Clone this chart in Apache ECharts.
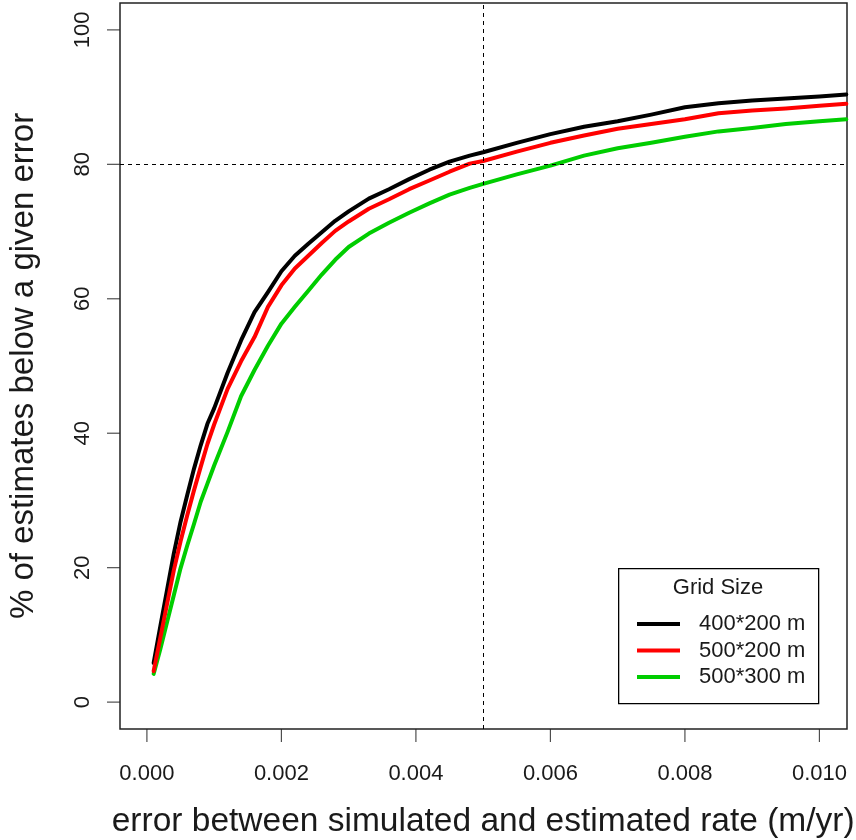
<!DOCTYPE html>
<html>
<head>
<meta charset="utf-8">
<title>Cumulative error by grid size</title>
<script src="https://cdn.jsdelivr.net/npm/echarts@6/dist/echarts.min.js"></script>
<style>
  html, body { margin: 0; padding: 0; background: #ffffff; }
  #chart { width: 856px; height: 840px; }
</style>
</head>
<body>
<div id="chart"></div>
<script>
// Error thresholds (m/yr) at which the cumulative share is sampled
const errorLevels = [0.0001, 0.0002, 0.0003, 0.0004, 0.0005, 0.0006, 0.0007, 0.0008, 0.0009, 0.0010,
  0.0012, 0.0014, 0.0016, 0.0018, 0.0020, 0.0022, 0.0024, 0.0026, 0.0028, 0.0030,
  0.0033, 0.0036, 0.0039, 0.0042, 0.0045, 0.0048, 0.0050, 0.0055, 0.0060, 0.0065,
  0.0070, 0.0075, 0.0080, 0.0085, 0.0090, 0.0095, 0.0100, 0.0104];

// % of estimates below each error, per grid size
const pct400x200 = [5.8, 11.3, 16.7, 22.1, 26.8, 30.8, 34.7, 38.2, 41.4, 43.7,
  49.0, 53.8, 58.0, 61.0, 64.1, 66.4, 68.2, 69.9, 71.6, 73.0,
  74.9, 76.3, 77.8, 79.2, 80.4, 81.3, 81.8, 83.2, 84.5, 85.6,
  86.4, 87.4, 88.5, 89.1, 89.5, 89.8, 90.1, 90.4];
const pct500x200 = [4.6, 9.6, 14.6, 19.6, 23.9, 27.8, 31.5, 35.0, 38.4, 41.3,
  46.6, 50.7, 54.3, 58.8, 62.0, 64.5, 66.4, 68.3, 70.1, 71.5,
  73.4, 74.8, 76.3, 77.6, 78.9, 80.1, 80.5, 81.9, 83.2, 84.3,
  85.3, 86.0, 86.7, 87.6, 88.0, 88.3, 88.7, 89.0];
const pct500x300 = [4.2, 7.9, 11.9, 15.9, 19.9, 23.3, 26.5, 29.8, 32.5, 35.2,
  40.2, 45.5, 49.4, 53.0, 56.3, 58.8, 61.2, 63.6, 65.8, 67.7,
  69.7, 71.3, 72.8, 74.2, 75.5, 76.5, 77.1, 78.5, 79.8, 81.3,
  82.4, 83.2, 84.1, 84.9, 85.4, 86.0, 86.4, 86.7];

const seriesNames = ['400*200 m', '500*200 m', '500*300 m'];
const seriesColors = ['#000000', '#ff0000', '#00cd00'];

// Tick positions of each axis
const xTicks = [0, 0.002, 0.004, 0.006, 0.008, 0.010];
const yTicks = [0, 20, 40, 60, 80, 100];

// Plotting region extends 4% beyond the labelled range on each side
const xPlotMin = -0.0004, xPlotMax = 0.01041;
const yPlotMin = -4, yPlotMax = 104;

// Reference thresholds drawn as dashed guide lines
const refError = 0.005;
const refPercent = 80;

const FONT = '"Liberation Sans", Arial, Helvetica, sans-serif';
const INK = '#1a1a1a';
const FRAME = '#222222';
const TICK_LEN = 13;

// Plot frame box (px); tick strips sit just outside it, aligned with the labelled range
const frame = { left: 120, right: 9, top: 3, bottom: 111 };
const W = 856, H = 840;
const xTickMin = xTicks[0], xTickMax = xTicks[xTicks.length - 1];
const yTickMin = yTicks[0], yTickMax = yTicks[yTicks.length - 1];
const frameW = W - frame.left - frame.right;
const frameH = H - frame.top - frame.bottom;
const padXl = frameW * (xTickMin - xPlotMin) / (xPlotMax - xPlotMin);
const padXr = frameW * (xPlotMax - xTickMax) / (xPlotMax - xPlotMin);
const padYb = frameH * (yTickMin - yPlotMin) / (yPlotMax - yPlotMin);
const padYt = frameH * (yPlotMax - yTickMax) / (yPlotMax - yPlotMin);

function pairs(values) {
  return errorLevels.map((x, i) => [x, values[i]]);
}

const curves = [pct400x200, pct500x200, pct500x300];
const zOrder = [2, 4, 3];

// All curves stay inside the frame's value range, so no clipping is needed
const series = curves.map((vals, i) => ({
  name: seriesNames[i],
  type: 'line',
  xAxisIndex: 1,
  yAxisIndex: 1,
  data: pairs(vals),
  symbol: 'none',
  smooth: false,
  z: zOrder[i],
  clip: false,
  lineStyle: { color: seriesColors[i], width: 4, cap: 'round', join: 'round' },
  itemStyle: { color: seriesColors[i] },
  emphasis: { disabled: true }
}));

series[0].markLine = {
  silent: true,
  symbol: 'none',
  precision: 6,
  label: { show: false },
  lineStyle: { color: '#000000', width: 1, type: [4, 4] },
  data: [{ xAxis: refError }, { yAxis: refPercent }]
};

// Tick marks: one thin bar per tick, placed by the tick-strip axes
series.push({
  name: 'xTickMarks', type: 'scatter', xAxisIndex: 0, yAxisIndex: 0,
  data: xTicks.map(v => [v, 0.5]),
  symbol: 'rect', symbolSize: [1.2, TICK_LEN],
  itemStyle: { color: FRAME }, silent: true, clip: false,
  emphasis: { disabled: true }
});
series.push({
  name: 'yTickMarks', type: 'scatter', xAxisIndex: 2, yAxisIndex: 2,
  data: yTicks.map(v => [0.5, v]),
  symbol: 'rect', symbolSize: [TICK_LEN, 1.2],
  itemStyle: { color: FRAME }, silent: true, clip: false,
  emphasis: { disabled: true }
});

const hiddenAxis = { type: 'value', min: 0, max: 1, show: false, axisLine: { onZero: false } };

const chart = echarts.init(document.getElementById('chart'), null, { renderer: 'canvas' });

chart.setOption({
  animation: false,
  backgroundColor: '#ffffff',
  textStyle: { fontFamily: FONT },
  grid: [
    {
      // strip of x ticks under the frame
      left: frame.left + padXl, right: frame.right + padXr,
      top: H - frame.bottom, height: TICK_LEN,
      show: false, containLabel: false, outerBoundsMode: 'none'
    },
    {
      // plotting frame
      left: frame.left, right: frame.right, top: frame.top, bottom: frame.bottom,
      show: true, borderColor: FRAME, borderWidth: 1.5,
      containLabel: false, outerBoundsMode: 'none'
    },
    {
      // strip of y ticks left of the frame
      left: frame.left - TICK_LEN, width: TICK_LEN,
      top: frame.top + padYt, bottom: frame.bottom + padYb,
      show: false, containLabel: false, outerBoundsMode: 'none'
    }
  ],
  xAxis: [
    {
      gridIndex: 0,
      type: 'value',
      position: 'bottom',
      min: xTickMin, max: xTickMax, interval: xTicks[1] - xTicks[0],
      name: 'error between simulated and estimated rate (m/yr)',
      nameLocation: 'middle',
      nameGap: 76 - TICK_LEN,
      nameTextStyle: { fontSize: 33.5, color: INK, fontFamily: FONT },
      axisLine: { show: false, onZero: false },
      axisTick: { show: false },
      axisLabel: {
        show: true, margin: 34 - TICK_LEN,
        fontSize: 22, color: INK, fontFamily: FONT,
        formatter: v => v.toFixed(3)
      },
      splitLine: { show: false }
    },
    Object.assign({ gridIndex: 1 }, hiddenAxis, { min: xPlotMin, max: xPlotMax }),
    Object.assign({ gridIndex: 2 }, hiddenAxis)
  ],
  yAxis: [
    Object.assign({ gridIndex: 0 }, hiddenAxis),
    Object.assign({ gridIndex: 1 }, hiddenAxis, { min: yPlotMin, max: yPlotMax }),
    {
      gridIndex: 2,
      type: 'value',
      position: 'left',
      min: yTickMin, max: yTickMax, interval: yTicks[1] - yTicks[0],
      name: '% of estimates below a given error',
      nameLocation: 'middle',
      nameGap: 80 - TICK_LEN,
      nameTextStyle: { fontSize: 33, color: INK, fontFamily: FONT },
      axisLine: { show: false, onZero: false },
      axisTick: { show: false },
      axisLabel: {
        show: true, margin: 26 - TICK_LEN, rotate: 90,
        fontSize: 22, color: INK, fontFamily: FONT
      },
      splitLine: { show: false }
    }
  ],
  legend: {
    data: seriesNames,
    orient: 'vertical',
    left: 637, top: 611,
    icon: 'rect',
    itemWidth: 43, itemHeight: 4, itemGap: 0.5,
    padding: 0,
    selectedMode: false,
    textStyle: { fontSize: 22, color: INK, fontFamily: FONT, lineHeight: 26, padding: [0, 0, 0, 14] }
  },
  graphic: [
    {
      type: 'rect', left: 618, top: 568, z: 0,
      shape: { width: 200, height: 135 },
      style: { fill: '#ffffff', stroke: '#000000', lineWidth: 1.3 }
    },
    {
      type: 'text', x: 718, y: 588, z: 10,
      style: { text: 'Grid Size', fill: INK, font: '22px ' + FONT, align: 'center', verticalAlign: 'middle' }
    }
  ],
  series: series
});
</script>
</body>
</html>
